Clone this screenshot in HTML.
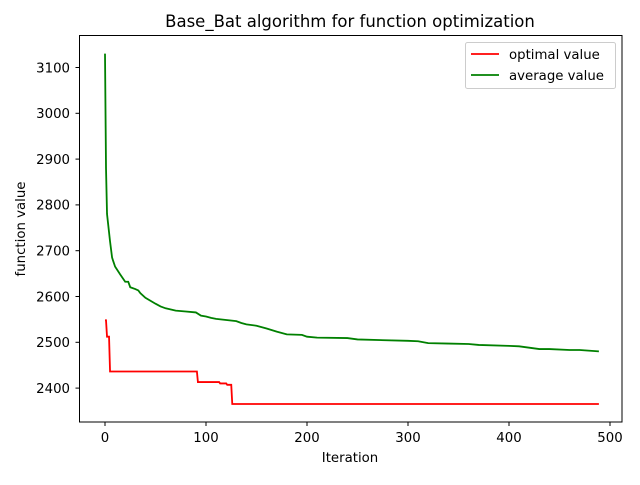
<!DOCTYPE html><html><head><style>body{margin:0;background:#fff}svg{font-family:"DejaVu Sans","Liberation Sans",sans-serif}</style></head><body>
<svg width="640" height="480" viewBox="0 0 640 480" xmlns="http://www.w3.org/2000/svg">
<rect width="640" height="480" fill="#fff"/>
<text x="350" y="27" font-size="16.5" text-anchor="middle">Base_Bat algorithm for function optimization</text>
<g transform="matrix(1.01,0,0,-0.458,105,1487.2)" fill="none" stroke-width="1.8">
<polyline vector-effect="non-scaling-stroke" stroke="#ff0000" points="0,2548 1,2548 2,2512 4,2512 5,2436 91,2436 92,2413 113,2413 114,2410 120,2410 121,2407 125,2407 126,2365 489,2365"/>
<polyline vector-effect="non-scaling-stroke" stroke="#008000" points="0,3130 1,2880 2,2780 3,2760 5,2720 7,2685 8,2678 10,2665 15,2648 20,2632 23,2632 25,2620 30,2616 33,2613 35,2607 40,2597 50,2584 55,2578 60,2574 70,2569 80,2567 90,2565 95,2558 100,2556 105,2553 110,2551 130,2546 135,2542 140,2539 150,2536 160,2530 170,2523 180,2517 195,2516 200,2512 210,2510 240,2509 250,2506 300,2503 310,2502 320,2498 340,2497 360,2496 370,2494 400,2492 410,2491 420,2488 430,2485 440,2485 460,2483 470,2483 489,2480"/>
</g>
<rect x="79.5" y="35.5" width="542.5" height="386.5" fill="none" stroke="#000" stroke-width="1"/>
<g stroke="#000" stroke-width="1">
<line x1="105" y1="422" x2="105" y2="426"/><line x1="206" y1="422" x2="206" y2="426"/><line x1="307" y1="422" x2="307" y2="426"/><line x1="408" y1="422" x2="408" y2="426"/><line x1="509" y1="422" x2="509" y2="426"/><line x1="610" y1="422" x2="610" y2="426"/>
<line x1="75.5" y1="67.5" x2="79.5" y2="67.5"/><line x1="75.5" y1="113.3" x2="79.5" y2="113.3"/><line x1="75.5" y1="159.1" x2="79.5" y2="159.1"/><line x1="75.5" y1="204.9" x2="79.5" y2="204.9"/><line x1="75.5" y1="250.7" x2="79.5" y2="250.7"/><line x1="75.5" y1="296.5" x2="79.5" y2="296.5"/><line x1="75.5" y1="342.3" x2="79.5" y2="342.3"/><line x1="75.5" y1="388.1" x2="79.5" y2="388.1"/>
</g>
<g font-size="13.3" text-anchor="middle">
<text x="105" y="442">0</text><text x="206" y="442">100</text><text x="307" y="442">200</text><text x="408" y="442">300</text><text x="509" y="442">400</text><text x="610" y="442">500</text>
<text x="350" y="462">Iteration</text>
</g>
<g font-size="13.3" text-anchor="end">
<text x="70" y="72.3">3100</text><text x="70" y="118">3000</text><text x="70" y="164">2900</text><text x="70" y="209.7">2800</text><text x="70" y="255.5">2700</text><text x="70" y="301.3">2600</text><text x="70" y="347">2500</text><text x="70" y="392.8">2400</text>
</g>
<text transform="translate(25,229) rotate(-90)" font-size="13.3" text-anchor="middle">function value</text>
<rect x="465.5" y="42.5" width="150" height="46" rx="2" fill="#fff" stroke="#ccc"/>
<line x1="471" y1="54" x2="499" y2="54" stroke="#ff0000" stroke-width="1.8"/>
<line x1="471" y1="75" x2="499" y2="75" stroke="#008000" stroke-width="1.8"/>
<text x="509" y="58.8" font-size="13.3">optimal value</text>
<text x="509" y="79.8" font-size="13.3">average value</text>
</svg>
</body></html>
